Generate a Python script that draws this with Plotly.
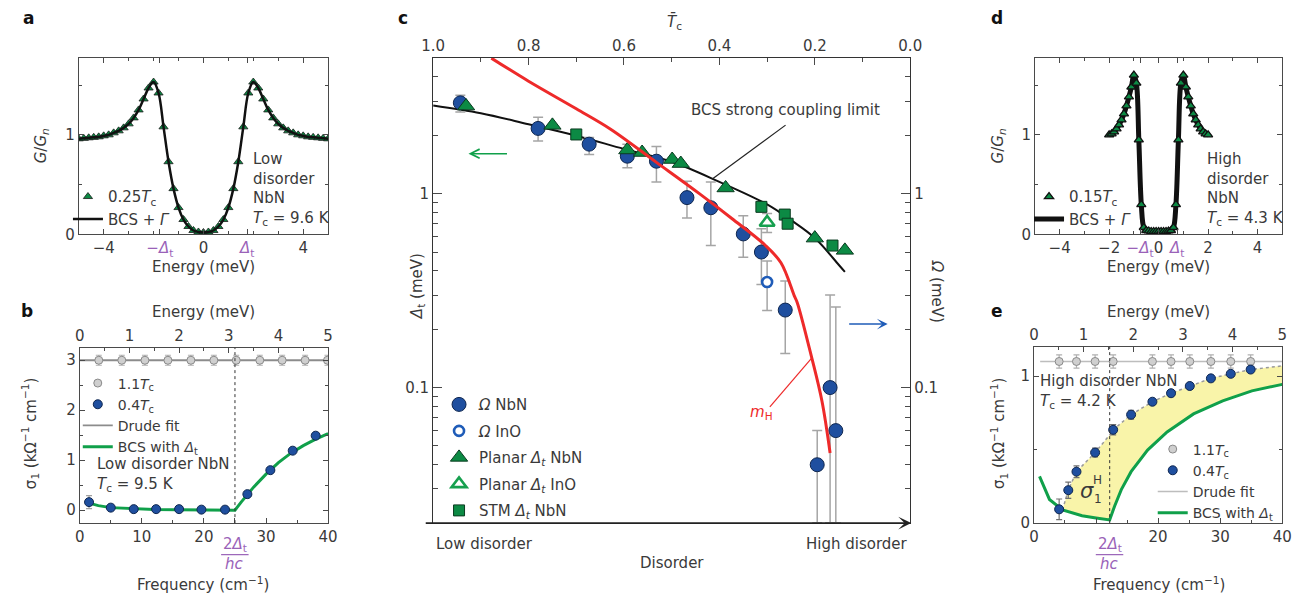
import math
import plotly.graph_objects as go

W, H = 1311, 606


def px(x):
    return x / W


def py(y):
    return 1 - y / H


FONT = "DejaVu Sans"
TXT = "#3a3a3a"
PURPLE = "#9a62b8"
BLUE = "#1f4f9f"
BLUE_EDGE = "#0f2750"
GREEN = "#0c8a44"
GREEN_EDGE = "#0b3b20"
GREEN_LINE = "#10a04a"
GRAY_PT = "#cfcfcf"
GRAY_EDGE = "#8a8a8a"
RED = "#ee2a2a"
AX = "#4a4a4a"

# ---------------- Panel a : low-disorder tunnelling spectrum ----------------
a_energy = [-5.0, -4.8, -4.6, -4.4, -4.2, -4.0, -3.8, -3.6, -3.4, -3.2, -3.0, -2.8, -2.6,
            -2.4, -2.2, -2.0, -1.8, -1.6, -1.4, -1.2, -1.0, -0.8, -0.6, -0.4, -0.2, 0.0,
            0.2, 0.4, 0.6, 0.8, 1.0, 1.2, 1.4, 1.6, 1.8, 2.0, 2.2, 2.4, 2.6, 2.8, 3.0,
            3.2, 3.4, 3.6, 3.8, 4.0, 4.2, 4.4, 4.6, 4.8, 5.0]
a_g_meas = [0.96, 0.965, 0.97, 0.975, 0.98, 0.99, 1.00, 1.02, 1.04, 1.07, 1.11, 1.17, 1.25,
            1.36, 1.47, 1.53, 1.42, 1.08, 0.73, 0.46, 0.27, 0.15, 0.08, 0.04, 0.025, 0.02,
            0.025, 0.04, 0.08, 0.15, 0.27, 0.46, 0.73, 1.08, 1.42, 1.53, 1.47, 1.36, 1.25,
            1.17, 1.11, 1.07, 1.04, 1.02, 1.00, 0.99, 0.98, 0.975, 0.97, 0.965, 0.96]
a_g_fit = [0.96, 0.965, 0.97, 0.975, 0.98, 0.99, 1.00, 1.02, 1.04, 1.07, 1.11, 1.17, 1.25,
           1.36, 1.47, 1.53, 1.42, 1.08, 0.73, 0.46, 0.27, 0.15, 0.08, 0.04, 0.025, 0.02,
           0.025, 0.04, 0.08, 0.15, 0.27, 0.46, 0.73, 1.08, 1.42, 1.53, 1.47, 1.36, 1.25,
           1.17, 1.11, 1.07, 1.04, 1.02, 1.00, 0.99, 0.98, 0.975, 0.97, 0.965, 0.96]
a_tick_vals = [-4, -1.75, 0, 1.75, 4]

# ---------------- Panel b : low-disorder optical conductivity ----------------
b_freq_normal = [3.07, 6.77, 10.5, 14.2, 17.9, 21.6, 25.2, 29.0, 32.6, 36.3, 39.9]
b_sigma_normal = [3.0, 3.0, 3.0, 3.0, 3.0, 3.0, 3.0, 3.0, 3.0, 3.0, 3.0]
b_err_normal = [0.1, 0.1, 0.1, 0.1, 0.1, 0.1, 0.1, 0.1, 0.1, 0.1, 0.1]
b_freq_super = [1.5, 5.0, 8.7, 12.3, 16.0, 19.6, 23.4, 27.0, 30.7, 34.3, 38.0]
b_sigma_super = [0.16, 0.05, 0.02, 0.02, 0.02, 0.01, 0.01, 0.32, 0.80, 1.19, 1.49]
b_err_super = [0.13, 0.04, 0.05, 0.05, 0.05, 0.05, 0.05, 0.05, 0.05, 0.05, 0.05]
b_drude_freq = [0, 40]
b_drude_sigma = [3.0, 3.0]
b_bcs_freq = [1.5, 3, 5, 8, 12, 16, 20, 25, 26, 27, 28, 30, 32, 34, 36, 38, 40]
b_bcs_sigma = [0.14, 0.09, 0.05, 0.03, 0.015, 0.01, 0.005, 0.0, 0.16, 0.32, 0.46, 0.72,
               0.95, 1.14, 1.29, 1.42, 1.53]
b_gap_freq = 25.0

# ---------------- Panel c : energy scales vs disorder ----------------
c_omega_nbn_tc = [0.943, 0.78, 0.673, 0.593, 0.532, 0.468, 0.418, 0.35, 0.312, 0.262,
                  0.195, 0.168, 0.156]
c_omega_nbn = [2.94, 2.17, 1.80, 1.56, 1.47, 0.954, 0.846, 0.62, 0.50, 0.251, 0.04, 0.10, 0.06]
c_omega_nbn_hi = [3.22, 2.48, 1.95, 1.80, 1.75, 1.16, 1.15, 0.77, 0.66, 0.355, 0.06, 0.30, 0.26]
c_omega_nbn_lo = [2.64, 1.87, 1.59, 1.36, 1.15, 0.75, 0.54, 0.47, 0.34, 0.15, 0.0201,
                  0.0201, 0.0201]
c_omega_ino_tc = [0.30]
c_omega_ino = [0.35]
c_omega_ino_hi = [0.45]
c_omega_ino_lo = [0.25]
c_planar_nbn_tc = [0.931, 0.75, 0.593, 0.562, 0.499, 0.481, 0.387, 0.20, 0.137]
c_planar_nbn = [2.83, 2.25, 1.68, 1.63, 1.50, 1.43, 1.07, 0.59, 0.51]
c_planar_ino_tc = [0.30]
c_planar_ino = [0.71]
c_planar_ino_hi = [0.79]
c_planar_ino_lo = [0.63]
c_stm_nbn_tc = [0.70, 0.312, 0.263, 0.257, 0.163]
c_stm_nbn = [2.02, 0.855, 0.78, 0.70, 0.54]
c_bcs_tc = [1.0, 0.9, 0.8, 0.7, 0.6, 0.5, 0.4, 0.3, 0.25, 0.2, 0.15, 0.137]
c_bcs = [2.85, 2.6, 2.28, 1.99, 1.70, 1.46, 1.15, 0.88, 0.73, 0.59, 0.43, 0.395]
c_mh_tc = [0.878, 0.8, 0.7, 0.628, 0.532, 0.442, 0.374, 0.305, 0.271, 0.243, 0.237,
           0.206, 0.185, 0.168]
c_mh = [5.0, 3.8, 2.74, 2.15, 1.45, 1.0, 0.745, 0.545, 0.44, 0.297, 0.275, 0.141, 0.085, 0.046]
c_top_ticks = [1.0, 0.8, 0.6, 0.4, 0.2, 0.0]
c_top_labels = ["1.0", "0.8", "0.6", "0.4", "0.2", "0.0"]

# ---------------- Panel d : high-disorder tunnelling spectrum ----------------
d_energy = [-2.0, -1.9, -1.8, -1.7, -1.6, -1.5, -1.4, -1.3, -1.2, -1.1, -1.0, -0.9, -0.8,
            -0.7, -0.6, -0.5, -0.4, -0.3, -0.2, -0.1, 0.0, 0.1, 0.2, 0.3, 0.4, 0.5, 0.6,
            0.7, 0.8, 0.9, 1.0, 1.1, 1.2, 1.3, 1.4, 1.5, 1.6, 1.7, 1.8, 1.9, 2.0]
d_g_meas = [1.00, 1.01, 1.03, 1.06, 1.10, 1.15, 1.21, 1.29, 1.38, 1.48, 1.60, 1.52, 0.95,
            0.30, 0.07, 0.04, 0.035, 0.03, 0.03, 0.03, 0.03, 0.03, 0.03, 0.03, 0.035, 0.04,
            0.07, 0.30, 0.95, 1.52, 1.60, 1.48, 1.38, 1.29, 1.21, 1.15, 1.10, 1.06, 1.03,
            1.01, 1.00]
d_g_fit = [1.00, 1.01, 1.03, 1.06, 1.10, 1.15, 1.21, 1.29, 1.38, 1.48, 1.60, 1.52, 0.95,
           0.30, 0.07, 0.04, 0.035, 0.03, 0.03, 0.03, 0.03, 0.03, 0.03, 0.03, 0.035, 0.04,
           0.07, 0.30, 0.95, 1.52, 1.60, 1.48, 1.38, 1.29, 1.21, 1.15, 1.10, 1.06, 1.03,
           1.01, 1.00]
d_tick_vals = [-4, -2, -0.75, 0, 0.75, 2, 4]

# ---------------- Panel e : high-disorder optical conductivity ----------------
e_freq_normal = [4.06, 6.85, 9.85, 12.76, 19.08, 22.08, 25.1, 28.5, 31.7, 34.9]
e_sigma_normal = [1.1, 1.1, 1.1, 1.1, 1.1, 1.1, 1.1, 1.1, 1.1, 1.1]
e_err_normal = [0.045, 0.045, 0.045, 0.045, 0.045, 0.045, 0.045, 0.045, 0.045, 0.045]
e_freq_super = [4.06, 5.53, 6.85, 9.85, 12.76, 15.65, 19.08, 22.08, 25.1, 28.5, 31.7, 34.9]
e_sigma_super = [0.094, 0.224, 0.35, 0.48, 0.635, 0.738, 0.826, 0.884, 0.933, 0.985, 1.016, 1.045]
e_err_super = [0.07, 0.055, 0.04, 0.03, 0.035, 0.03, 0.015, 0.015, 0.015, 0.015, 0.015, 0.015]
e_drude_freq = [1, 40]
e_drude_sigma = [1.1, 1.1]
e_bcs_freq = [0.9, 2.5, 4.6, 7.75, 10, 12.2, 13.0, 14.07, 15.65, 18.3, 21.45, 25.7, 30.4, 35.1, 40]
e_bcs_sigma = [0.318, 0.161, 0.09, 0.05, 0.035, 0.022, 0.117, 0.228, 0.35, 0.497, 0.62,
               0.743, 0.832, 0.9, 0.944]
e_upper_freq = [4.6, 5.53, 6.85, 9.85, 12.2, 12.76, 15.65, 19.08, 22.08, 25.1, 28.5, 31.7, 34.9, 40]
e_upper_sigma = [0.09, 0.224, 0.35, 0.48, 0.6, 0.635, 0.738, 0.826, 0.884, 0.933, 0.985,
                 1.016, 1.045, 1.07]
e_gap_freq = 12.2

energy_ticks = [0, 1, 2, 3, 4, 5]

# ======================================================================
fig = go.Figure()


def tri_marker(size, fill, edge, ew):
    return dict(symbol="triangle-up", size=size, color=fill, line=dict(color=edge, width=ew))


def anchor_trace(xa, ya):
    # empty trace so that the secondary axis is rendered
    return go.Scatter(x=[], y=[], xaxis=xa, yaxis=ya, showlegend=False, hoverinfo="skip")


# ---- a ----
fig.add_trace(go.Scatter(x=a_energy, y=a_g_meas, mode="markers", xaxis="x", yaxis="y",
                         marker=tri_marker(8, GREEN, "#1a1a1a", 0.8),
                         name="0.25<i>T</i><sub>c</sub>", legend="legend", legendrank=1))
fig.add_trace(go.Scatter(x=a_energy, y=a_g_fit, mode="lines", xaxis="x", yaxis="y",
                         line=dict(color="#111111", width=2.5, shape="spline"),
                         name="BCS + <i>Γ</i>", legend="legend", legendrank=2))

# ---- b ----
fig.add_trace(anchor_trace("x3", "y2"))
fig.add_trace(go.Scatter(x=b_drude_freq, y=b_drude_sigma, mode="lines", xaxis="x2", yaxis="y2",
                         line=dict(color="#8c8c8c", width=1.8), name="Drude fit",
                         legend="legend2", legendrank=3))
fig.add_trace(go.Scatter(x=b_bcs_freq, y=b_bcs_sigma, mode="lines", xaxis="x2", yaxis="y2",
                         line=dict(color=GREEN_LINE, width=3),
                         name="BCS with <i>Δ</i><sub>t</sub>", legend="legend2", legendrank=4))
fig.add_trace(go.Scatter(x=b_freq_normal, y=b_sigma_normal, mode="markers", xaxis="x2", yaxis="y2",
                         marker=dict(size=8, color=GRAY_PT, line=dict(color=GRAY_EDGE, width=1)),
                         error_y=dict(type="data", array=b_err_normal, color="#b0b0b0",
                                      thickness=1.2, width=3),
                         name="1.1<i>T</i><sub>c</sub>", legend="legend2", legendrank=1))
fig.add_trace(go.Scatter(x=b_freq_super, y=b_sigma_super, mode="markers", xaxis="x2", yaxis="y2",
                         marker=dict(size=9, color=BLUE, line=dict(color=BLUE_EDGE, width=1)),
                         error_y=dict(type="data", array=b_err_super, color="#a0a0a0",
                                      thickness=1.2, width=3),
                         name="0.4<i>T</i><sub>c</sub>", legend="legend2", legendrank=2))

# ---- c ----
fig.add_trace(anchor_trace("x4", "y5"))
fig.add_trace(go.Scatter(x=c_bcs_tc, y=c_bcs, mode="lines", xaxis="x4", yaxis="y4",
                         line=dict(color="#111111", width=2, shape="spline"), showlegend=False))
fig.add_trace(go.Scatter(
    x=c_omega_nbn_tc, y=c_omega_nbn, mode="markers", xaxis="x4", yaxis="y4",
    marker=dict(size=14, color=BLUE, line=dict(color=BLUE_EDGE, width=1)),
    error_y=dict(type="data", symmetric=False,
                 array=[h - v for h, v in zip(c_omega_nbn_hi, c_omega_nbn)],
                 arrayminus=[v - l for v, l in zip(c_omega_nbn, c_omega_nbn_lo)],
                 color="#a5a5a5", thickness=1.5, width=5),
    name="<i>Ω</i> NbN", legend="legend3", legendgroup="g1", legendrank=1))
fig.add_trace(go.Scatter(
    x=c_omega_ino_tc, y=c_omega_ino, mode="markers", xaxis="x4", yaxis="y4",
    marker=dict(size=10, color="white", line=dict(color="#1f5cb8", width=2.6)),
    error_y=dict(type="data", symmetric=False,
                 array=[h - v for h, v in zip(c_omega_ino_hi, c_omega_ino)],
                 arrayminus=[v - l for v, l in zip(c_omega_ino, c_omega_ino_lo)],
                 color="#a5a5a5", thickness=1.5, width=5),
    name="<i>Ω</i> InO", legend="legend3", legendgroup="g2", legendrank=2))
fig.add_trace(go.Scatter(
    x=c_planar_nbn_tc, y=c_planar_nbn, mode="markers", xaxis="x4", yaxis="y4",
    marker=tri_marker(15, GREEN, GREEN_EDGE, 1),
    name="Planar <i>Δ</i><sub><i>t</i></sub> NbN", legend="legend3", legendgroup="g3", legendrank=3))
fig.add_trace(go.Scatter(
    x=c_planar_ino_tc, y=c_planar_ino, mode="markers", xaxis="x4", yaxis="y4",
    marker=tri_marker(13, "white", "#17a04f", 2.6),
    error_y=dict(type="data", symmetric=False,
                 array=[h - v for h, v in zip(c_planar_ino_hi, c_planar_ino)],
                 arrayminus=[v - l for v, l in zip(c_planar_ino, c_planar_ino_lo)],
                 color="#a5a5a5", thickness=1.5, width=5),
    name="Planar <i>Δ</i><sub><i>t</i></sub> InO", legend="legend3", legendgroup="g4", legendrank=4))
fig.add_trace(go.Scatter(
    x=c_stm_nbn_tc, y=c_stm_nbn, mode="markers", xaxis="x4", yaxis="y4",
    marker=dict(symbol="square", size=11, color=GREEN, line=dict(color=GREEN_EDGE, width=1)),
    name="STM <i>Δ</i><sub><i>t</i></sub> NbN", legend="legend3", legendgroup="g5", legendrank=5))
fig.add_trace(go.Scatter(x=c_mh_tc, y=c_mh, mode="lines", xaxis="x4", yaxis="y4",
                         line=dict(color=RED, width=3, shape="spline"), showlegend=False))

# ---- d ----
fig.add_trace(go.Scatter(x=d_energy, y=d_g_fit, mode="lines", xaxis="x6", yaxis="y6",
                         line=dict(color="#111111", width=5, shape="spline"),
                         name="BCS + <i>Γ</i>", legend="legend4", legendrank=2))
fig.add_trace(go.Scatter(x=d_energy, y=d_g_meas, mode="markers", xaxis="x6", yaxis="y6",
                         marker=tri_marker(8, GREEN, "#111111", 1.3),
                         name="0.15<i>T</i><sub>c</sub>", legend="legend4", legendrank=1))

# ---- e ----
fig.add_trace(anchor_trace("x8", "y7"))
lower_start = e_bcs_freq.index(e_upper_freq[0])
fill_x = e_upper_freq + e_bcs_freq[lower_start:][::-1]
fill_y = e_upper_sigma + e_bcs_sigma[lower_start:][::-1]
fig.add_trace(go.Scatter(x=fill_x, y=fill_y, mode="lines", xaxis="x7", yaxis="y7", fill="toself",
                         fillcolor="rgba(248,243,160,0.9)", line=dict(width=0),
                         showlegend=False, hoverinfo="skip"))
fig.add_trace(go.Scatter(x=e_upper_freq, y=e_upper_sigma, mode="lines", xaxis="x7", yaxis="y7",
                         line=dict(color="#9a9a9a", width=1.5, dash="dot"), showlegend=False))
fig.add_trace(go.Scatter(x=e_drude_freq, y=e_drude_sigma, mode="lines", xaxis="x7", yaxis="y7",
                         line=dict(color="#bdbdbd", width=1.5), name="Drude fit",
                         legend="legend5", legendrank=3))
fig.add_trace(go.Scatter(x=e_bcs_freq, y=e_bcs_sigma, mode="lines", xaxis="x7", yaxis="y7",
                         line=dict(color=GREEN_LINE, width=3),
                         name="BCS with <i>Δ</i><sub>t</sub>", legend="legend5", legendrank=4))
fig.add_trace(go.Scatter(x=e_freq_normal, y=e_sigma_normal, mode="markers", xaxis="x7", yaxis="y7",
                         marker=dict(size=8, color=GRAY_PT, line=dict(color=GRAY_EDGE, width=1)),
                         error_y=dict(type="data", array=e_err_normal, color="#b0b0b0",
                                      thickness=1.2, width=3),
                         name="1.1<i>T</i><sub>c</sub>", legend="legend5", legendrank=1))
fig.add_trace(go.Scatter(x=e_freq_super, y=e_sigma_super, mode="markers", xaxis="x7", yaxis="y7",
                         marker=dict(size=9, color=BLUE, line=dict(color=BLUE_EDGE, width=1)),
                         error_y=dict(type="data", array=e_err_super, color="#707070",
                                      thickness=1.2, width=3),
                         name="0.4<i>T</i><sub>c</sub>", legend="legend5", legendrank=2))


# ======================================================================
def ax(**kw):
    d = dict(showline=True, linecolor=AX, linewidth=1, ticks="inside", ticklen=5,
             tickcolor=AX, tickwidth=1, showgrid=False, zeroline=False, tickangle=0,
             tickfont=dict(family=FONT, size=15, color=TXT), fixedrange=True)
    d.update(kw)
    return d


def minor(vals, ln=3):
    return dict(tickvals=vals, ticks="inside", ticklen=ln, tickcolor=AX, showgrid=False)


def pur(s):
    return f"<span style='color:{PURPLE}'>{s}</span>"


dom_a_x = [px(68), px(322)]
dom_top_y = [py(238), py(59)]
dom_b_x = [px(69), px(322)]
dom_bot_y = [py(531), py(353)]
dom_c_x = [px(429), px(915)]
dom_c_y = [py(531), py(59)]
dom_d_x = [px(1042), px(1294)]
dom_e_x = [px(1041), px(1294)]
dom_e_y = [py(531), py(352)]

log_minor = [0.03, 0.04, 0.05, 0.06, 0.07, 0.08, 0.09, 0.2, 0.3, 0.4, 0.5, 0.6, 0.7, 0.8,
             0.9, 2, 3, 4, 5]

layout = dict(
    width=W, height=H, autosize=False,
    margin=dict(l=0, r=0, t=0, b=0, pad=0),
    paper_bgcolor="white", plot_bgcolor="rgba(0,0,0,0)",
    font=dict(family=FONT, size=15, color=TXT),
    # a
    xaxis=ax(domain=dom_a_x, anchor="y", range=[-5, 5], tickvals=a_tick_vals,
             ticktext=["−4", pur("−<i>Δ</i><sub>t</sub>"), "0", pur("<i>Δ</i><sub>t</sub>"), "4"],
             minor=minor([-3, -2, -1, 1, 2, 3]), mirror="ticks"),
    yaxis=ax(domain=dom_top_y, anchor="x", range=[0, 1.77], tickvals=[0, 1],
             ticktext=["0", "1"], minor=minor([0.5, 1.5]), mirror="ticks"),
    # b
    xaxis2=ax(domain=dom_b_x, anchor="y2", range=[0, 40], tickvals=[0, 10, 20, 25, 30, 40],
              ticktext=["0", "10", "20", "", "30", "40"], minor=minor([5, 15, 35]), mirror=True),
    xaxis3=ax(overlaying="x2", anchor="y2", side="top", range=[0, 5], tickvals=energy_ticks,
              minor=minor([0.5, 1.5, 2.5, 3.5, 4.5])),
    yaxis2=ax(domain=dom_bot_y, anchor="x2", range=[-0.26, 3.25], tickvals=[0, 1, 2, 3],
              minor=minor([0.5, 1.5, 2.5]), mirror="ticks"),
    # c
    xaxis4=ax(domain=dom_c_x, anchor="y4", side="top", range=[1, 0], tickvals=c_top_ticks,
              ticktext=c_top_labels, minor=minor([0.9, 0.7, 0.5, 0.3, 0.1], 4), mirror=True,
              ticklen=7, linecolor="#333333"),
    yaxis4=ax(domain=dom_c_y, anchor="x4", type="log",
              range=[math.log10(0.02), math.log10(5)], tickvals=[0.1, 1], ticktext=["0.1", "1"],
              minor=minor(log_minor, 5), ticklen=9, linecolor="#333333"),
    yaxis5=ax(overlaying="y4", anchor="x4", side="right", type="log",
              range=[math.log10(0.02), math.log10(5)], tickvals=[0.1, 1], ticktext=["0.1", "1"],
              minor=minor(log_minor, 5), ticklen=9, linecolor="#333333"),
    # d
    xaxis6=ax(domain=dom_d_x, anchor="y6", range=[-5, 5], tickvals=d_tick_vals,
              ticktext=["−4", "−2", pur("−<i>Δ</i><sub>t</sub>"), "0", pur("<i>Δ</i><sub>t</sub>"),
                        "2", "4"],
              minor=minor([-3, -1, 1, 3]), mirror="ticks"),
    yaxis6=ax(domain=dom_top_y, anchor="x6", range=[0, 1.77], tickvals=[0, 1],
              minor=minor([0.5, 1.5]), mirror="ticks"),
    # e
    xaxis7=ax(domain=dom_e_x, anchor="y7", range=[0, 40], tickvals=[0, 10, 20, 30, 40],
              ticktext=["0", "", "20", "30", "40"], minor=minor([5, 15, 25, 35]), mirror=True),
    xaxis8=ax(overlaying="x7", anchor="y7", side="top", range=[0, 5], tickvals=energy_ticks,
              minor=minor([0.5, 1.5, 2.5, 3.5, 4.5])),
    yaxis7=ax(domain=dom_e_y, anchor="x7", range=[0, 1.2], tickvals=[0, 1],
              minor=minor([0.5]), mirror="ticks"),
    showlegend=True,
)


def leg(x, y, size=15, gap=0, order="normal"):
    return dict(x=px(x), y=py(y), xanchor="left", yanchor="top", bgcolor="rgba(0,0,0,0)",
                borderwidth=0, font=dict(family=FONT, size=size, color=TXT),
                itemsizing="trace", tracegroupgap=gap, traceorder=order)


layout["legend"] = leg(57, 183)
layout["legend2"] = leg(67, 373, size=14)
layout["legend3"] = leg(435, 394, gap=4, order="grouped")
layout["legend4"] = leg(1036, 183)
layout["legend5"] = leg(1162, 440, size=14)

fig.update_layout(**layout)


# ---------------- annotations ----------------
def txt(x, y, s, size=15, color=TXT, xa="center", ya="middle", angle=0, align="center"):
    return dict(x=px(x), y=py(y), xref="paper", yref="paper", text=s, showarrow=False,
                xanchor=xa, yanchor=ya, textangle=angle, align=align,
                font=dict(family=FONT, size=size, color=color))


ann = [
    txt(17, 18, "<b>a</b>", size=17, color="#111"),
    txt(15, 316, "<b>b</b>", size=17, color="#111"),
    txt(398, 18, "<b>c</b>", size=17, color="#111"),
    txt(1003, 18, "<b>d</b>", size=17, color="#111"),
    txt(1003, 316, "<b>e</b>", size=17, color="#111"),
    # a
    txt(195, 271, "Energy (meV)"),
    txt(30, 148, "<i>G</i>/<i>G</i><sub><i>n</i></sub>", angle=-90),
    txt(243, 191.5, "Low<br>disorder<br>NbN<br><i>T</i><sub>c</sub> = 9.6 K", xa="left", align="left"),
    # b
    txt(195, 317, "Energy (meV)"),
    txt(195, 593, "Frequency (cm<sup>−1</sup>)"),
    txt(18, 440, "σ<sub>1</sub> (kΩ<sup>−1</sup> cm<sup>−1</sup>)", angle=-90),
    txt(227, 553, "2<i>Δ</i><sub>t</sub>", color=PURPLE),
    txt(227, 573, "<i>hc</i>", color=PURPLE),
    txt(85, 471, "Low disorder NbN", xa="left"),
    txt(85, 492, "<i>T</i><sub>c</sub> = 9.5 K", xa="left"),
    # c
    txt(675, 22, "<i>T̄</i><sub>c</sub>"),
    txt(430, 552, "Low disorder", xa="left"),
    txt(915, 552, "High disorder", xa="right"),
    txt(672, 571, "Disorder"),
    txt(788, 112, "BCS strong coupling limit"),
    txt(763, 419, "<i>m</i><sub>H</sub>", color=RED),
    txt(413, 290, "<i>Δ</i><sub>t</sub> (meV)", angle=-90),
    txt(943, 296, "<i>Ω</i> (meV)", angle=90),
    # d
    txt(1168, 271, "Energy (meV)"),
    txt(1005, 148, "<i>G</i>/<i>G</i><sub><i>n</i></sub>", angle=-90),
    txt(1215, 191.5, "High<br>disorder<br>NbN<br><i>T</i><sub>c</sub> = 4.3 K", xa="left", align="left"),
    # e
    txt(1168, 317, "Energy (meV)"),
    txt(1168, 593, "Frequency (cm<sup>−1</sup>)"),
    txt(1005, 440, "σ<sub>1</sub> (kΩ<sup>−1</sup> cm<sup>−1</sup>)", angle=-90),
    txt(1118, 553, "2<i>Δ</i><sub>t</sub>", color=PURPLE),
    txt(1118, 573, "<i>hc</i>", color=PURPLE),
    txt(1045, 387, "High disorder NbN", xa="left"),
    txt(1045, 408, "<i>T</i><sub>c</sub> = 4.2 K", xa="left"),
    txt(1095, 498, "<i>σ</i>", size=21),
    txt(1106, 487, "H", size=12),
    txt(1106, 507, "1", size=12),
]

# arrows
ann.append(dict(x=px(916), y=py(531), xref="paper", yref="paper", ax=-487, ay=0, text="",
                showarrow=True, arrowhead=3, arrowsize=1.2, arrowwidth=1.8, arrowcolor="#222"))
ann.append(dict(x=px(465), y=py(156), xref="paper", yref="paper", ax=40, ay=0, text="",
                showarrow=True, arrowhead=5, arrowsize=1.2, arrowwidth=1.5, arrowcolor=GREEN_LINE))
ann.append(dict(x=px(892), y=py(329), xref="paper", yref="paper", ax=-40, ay=0, text="",
                showarrow=True, arrowhead=3, arrowsize=1.2, arrowwidth=1.5, arrowcolor="#1f5cb8"))
fig.update_layout(annotations=ann)

# ---------------- shapes ----------------
shapes = [
    dict(type="line", xref="x2", yref="y2 domain", x0=b_gap_freq, x1=b_gap_freq, y0=0, y1=1,
         line=dict(color="#333", width=1, dash="dot")),
    dict(type="line", xref="x7", yref="y7 domain", x0=e_gap_freq, x1=e_gap_freq, y0=0, y1=1,
         line=dict(color="#333", width=1, dash="dot")),
    dict(type="line", xref="paper", yref="paper", x0=px(213), x1=px(241), y0=py(563), y1=py(563),
         line=dict(color=PURPLE, width=1.2)),
    dict(type="line", xref="paper", yref="paper", x0=px(1104), x1=px(1132), y0=py(563), y1=py(563),
         line=dict(color=PURPLE, width=1.2)),
    dict(type="line", xref="paper", yref="paper", x0=px(788), x1=px(713), y0=py(127), y1=py(182),
         line=dict(color="#222", width=1.2)),
    dict(type="line", xref="paper", yref="paper", x0=px(772), x1=px(815), y0=py(413), y1=py(363),
         line=dict(color=RED, width=1.2)),
]
fig.update_layout(shapes=shapes)

fig.write_html("out.html", post_script="document.body.style.margin='0';",
               config={"displayModeBar": False})
